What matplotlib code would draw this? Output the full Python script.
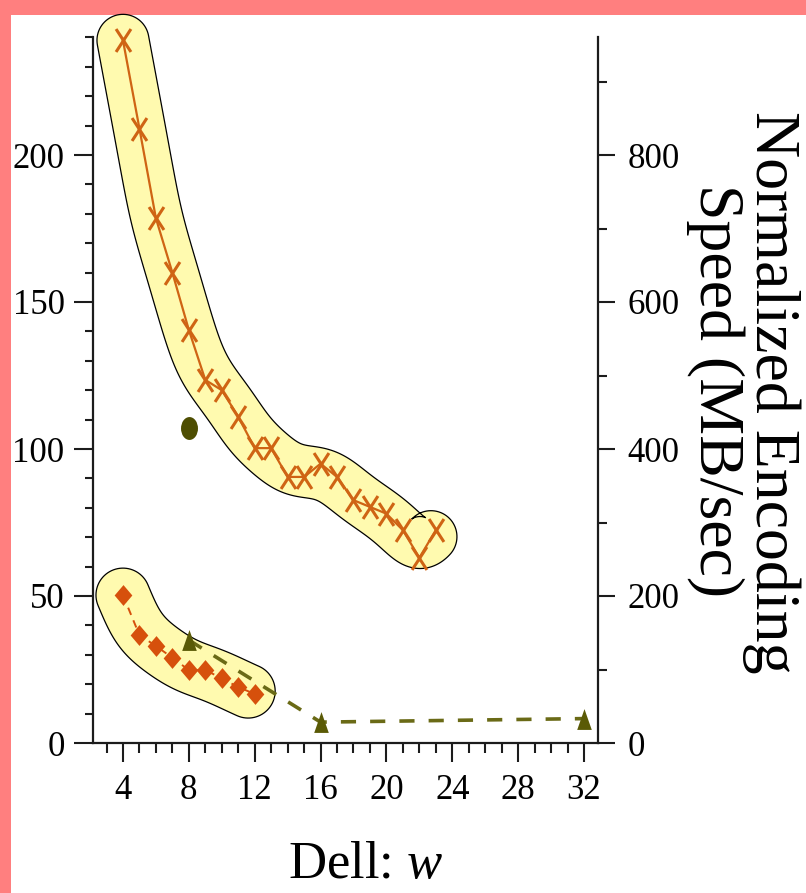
import numpy as np
import matplotlib
matplotlib.use("Agg")
import matplotlib.pyplot as plt
from matplotlib.path import Path
from matplotlib.patches import Polygon, Rectangle
from matplotlib.ticker import MultipleLocator, FixedLocator

# ---- data -------------------------------------------------------------
w_cross = [4, 5, 6, 7, 8, 9, 10, 11, 12, 13, 14, 15, 16, 17, 18, 19, 20, 21, 22, 23]
speed_cross = [239, 209, 178.5, 160, 140.5, 123.5, 120, 111, 100.3, 100.3,
               90.5, 90.5, 95, 90.5, 82.6, 80.3, 78, 72.4, 63, 72.4]

w_diamond = [4, 5, 6, 7, 8, 9, 10, 11, 12]
speed_diamond = [50.3, 36.7, 33, 29, 24.8, 24.8, 22, 19, 16.7]

w_triangle = [8, 16, 32]
speed_triangle = [35, 7.1, 8.3]

w_circle = [8]
speed_circle = [107]

x_ticks = [4, 8, 12, 16, 20, 24, 28, 32]
left_ticks = [0, 50, 100, 150, 200]
right_ticks = [0, 200, 400, 600, 800]

# ---- style ------------------------------------------------------------
plt.rcParams["font.family"] = ["Liberation Serif", "DejaVu Serif"]
plt.rcParams["mathtext.fontset"] = "custom"
plt.rcParams["mathtext.rm"] = "Liberation Serif"
plt.rcParams["mathtext.it"] = "Liberation Serif:italic"

W, H = 806, 893
fig = plt.figure(figsize=(W / 100, H / 100), dpi=100, facecolor="#FF7F7F")
fig.patches.append(Rectangle((11 / W, 0), 1, (H - 15) / H, transform=fig.transFigure,
                             facecolor="white", edgecolor="none", zorder=-10))

ax = fig.add_axes([93 / W, 150 / H, (598 - 93) / W, 705.6 / H])
ax.set_facecolor("none")
ax.set_xlim(2.18, 32.85)
ax.set_ylim(0, 240)
ax2 = ax.twinx()
ax2.set_ylim(0, 960)

spine_col = "#1c1c1c"
for a in (ax, ax2):
    for s in a.spines.values():
        s.set_linewidth(1.6)
        s.set_color(spine_col)
ax.spines["top"].set_visible(False)
ax.spines["right"].set_visible(False)
for k in ("top", "left", "bottom"):
    ax2.spines[k].set_visible(False)

ax.xaxis.set_major_locator(FixedLocator(x_ticks))
ax.xaxis.set_minor_locator(MultipleLocator(1))
ax.yaxis.set_major_locator(FixedLocator(left_ticks))
ax.yaxis.set_minor_locator(MultipleLocator(10))
ax2.yaxis.set_major_locator(FixedLocator(right_ticks))
ax2.yaxis.set_minor_locator(MultipleLocator(100))

ax.tick_params(axis="x", which="major", direction="out", length=13.5, width=1.5,
               color=spine_col, labelsize=25, pad=9)
ax.tick_params(axis="x", which="minor", direction="out", length=7, width=1.5, color=spine_col)
ax.tick_params(axis="y", which="major", direction="out", length=13.5, width=1.5,
               color=spine_col, labelsize=25, pad=7)
ax.tick_params(axis="y", which="minor", direction="out", length=6, width=1.5, color=spine_col)
ax2.tick_params(axis="y", which="major", direction="out", length=12.5, width=1.5,
                color=spine_col, labelsize=25, pad=9)
ax2.tick_params(axis="y", which="minor", direction="out", length=6.5, width=1.5, color=spine_col)


# ---- highlight bands around the two measured curves -------------------
def band(xs, ys, half_w, smooth):
    pts = ax.transData.transform(np.column_stack([xs, ys]))
    seg = np.hypot(*np.diff(pts, axis=0).T)
    s = np.concatenate([[0], np.cumsum(seg)])
    t = np.linspace(0, s[-1], 500)
    px = np.interp(t, s, pts[:, 0])
    py = np.interp(t, s, pts[:, 1])
    sig = smooth / (t[1] - t[0])
    k = np.arange(-int(3 * sig), int(3 * sig) + 1)
    g = np.exp(-0.5 * (k / sig) ** 2)
    g /= g.sum()
    p = len(k) // 2

    def sm(v):
        # mirrored start keeps the first point, flat tail rounds off the end
        vp = np.concatenate([2 * v[0] - v[p:0:-1], v, np.full(p, v[-1])])
        return np.convolve(vp, g, mode="valid")

    cx, cy = sm(px), sm(py)
    dx, dy = np.gradient(cx), np.gradient(cy)
    n = np.hypot(dx, dy)
    keep = n > 1e-3
    cx, cy, dx, dy, n = cx[keep], cy[keep], dx[keep], dy[keep], n[keep]
    nx, ny = -dy / n, dx / n
    left = np.column_stack([cx + half_w * nx, cy + half_w * ny])
    right = np.column_stack([cx - half_w * nx, cy - half_w * ny])
    ae = np.arctan2(dy[-1], dx[-1])
    ang = np.linspace(ae + np.pi / 2, ae - np.pi / 2, 40)
    cap_e = np.column_stack([cx[-1] + half_w * np.cos(ang), cy[-1] + half_w * np.sin(ang)])
    a0 = np.arctan2(-dy[0], -dx[0])
    ang = np.linspace(a0 + np.pi / 2, a0 - np.pi / 2, 40)
    cap_s = np.column_stack([cx[0] + half_w * np.cos(ang), cy[0] + half_w * np.sin(ang)])
    outline = np.vstack([left, cap_e, right[::-1], cap_s])
    return ax.transData.inverted().transform(outline)


band_face = (1.0, 0.957, 0.157, 0.37)
for xs, ys, hw, sm_px in ((w_cross, speed_cross, 26, 24), (w_diamond, speed_diamond, 27, 18)):
    poly = Polygon(band(xs, ys, hw, sm_px), closed=True, facecolor=band_face,
                   edgecolor="black", linewidth=0.9, clip_on=False, zorder=1)
    ax.add_patch(poly)

# ---- markers ----------------------------------------------------------
cross_m = Path([(-0.65, -1), (0.65, 1), (-0.65, 1), (0.65, -1)],
               [Path.MOVETO, Path.LINETO, Path.MOVETO, Path.LINETO])
diamond_m = Path([(0, 1), (-0.85, 0), (0, -1), (0.85, 0), (0, 1)],
                 [Path.MOVETO, Path.LINETO, Path.LINETO, Path.LINETO, Path.CLOSEPOLY])
tri_m = Path([(0, 1), (-0.7, -1), (0.7, -1), (0, 1)],
             [Path.MOVETO, Path.LINETO, Path.LINETO, Path.CLOSEPOLY])
circ = Path.unit_circle()
ell_m = Path(circ.vertices * np.array([0.74, 1.0]), circ.codes)

orange = "#CF6414"
red_orange = "#D6500C"
olive = "#5A5A06"

ax.plot(w_cross, speed_cross, color=orange, lw=1.6, zorder=3,
        marker=cross_m, markersize=16.5, mew=2.2, mfc="none", mec=orange, clip_on=False)
ax.plot(w_diamond, speed_diamond, color=red_orange, lw=1.4, ls=(0, (4, 3)), zorder=3,
        marker=diamond_m, markersize=15, mec="none", mfc=red_orange)
ax.plot(w_triangle, speed_triangle, color="#6A6A16", lw=2.6, dashes=(4.2, 3.9), zorder=3)
ax.plot(w_triangle, speed_triangle, ls="none", marker=tri_m, markersize=15,
        mec="none", mfc=olive, zorder=4, clip_on=False)
ax.plot(w_circle, speed_circle, ls="none", marker=ell_m, markersize=16.5,
        mec="none", mfc="#4E4E02", zorder=4)

# ---- labels -----------------------------------------------------------
fig.text(366 / W, 1 - 878 / H, "Dell: $w$", fontsize=38, ha="center", va="baseline")
fig.text(756 / W, 1 - 392 / H, "Normalized Encoding", fontsize=46, rotation=-90,
         rotation_mode="anchor", ha="center", va="baseline")
fig.text(700 / W, 1 - 390 / H, "Speed (MB/sec)", fontsize=46, rotation=-90,
         rotation_mode="anchor", ha="center", va="baseline")

fig.savefig("out.png", dpi=100, facecolor=fig.get_facecolor())
